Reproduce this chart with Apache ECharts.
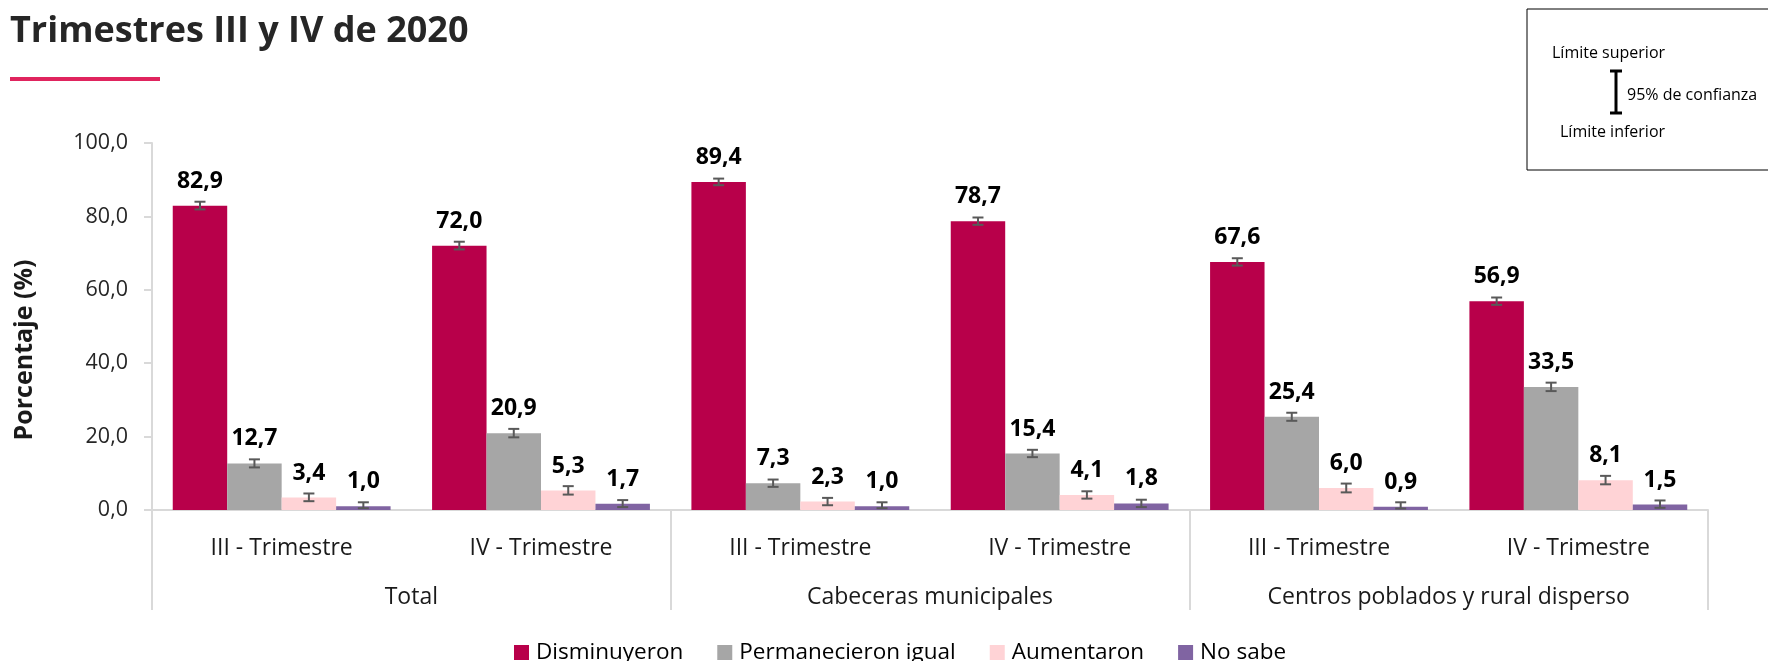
<!DOCTYPE html>
<html>
<head>
<meta charset="utf-8">
<script src="https://cdn.jsdelivr.net/npm/echarts@6/dist/echarts.min.js"></script>
<style>
  html, body { margin: 0; padding: 0; background: #fff; }
  #chart { width: 1768px; height: 661px; }
</style>
</head>
<body>
<div id="chart"></div>
<script>
// Categories: quarter within each area, then the three areas
const periods = ['III - Trimestre', 'IV - Trimestre', 'III - Trimestre', 'IV - Trimestre', 'III - Trimestre', 'IV - Trimestre'];
const areas = ['Total', 'Cabeceras municipales', 'Centros poblados y rural disperso'];
const seriesNames = ['Disminuyeron', 'Permanecieron igual', 'Aumentaron', 'No sabe'];
const yTicks = [0, 20, 40, 60, 80, 100];

// Percentages per category
const disminuyeron  = [82.9, 72.0, 89.4, 78.7, 67.6, 56.9];
const permanecieron = [12.7, 20.9, 7.3, 15.4, 25.4, 33.5];
const aumentaron    = [3.4, 5.3, 2.3, 4.1, 6.0, 8.1];
const noSabe        = [1.0, 1.7, 1.0, 1.8, 0.9, 1.5];

// 95% confidence limits (lower / upper)
const disminuyeronLow  = [81.9, 71.0, 88.5, 77.7, 66.6, 55.9];
const disminuyeronHigh = [84.0, 73.1, 90.3, 79.7, 68.6, 57.9];
const permanecieronLow  = [11.6, 19.8, 6.3, 14.4, 24.3, 32.4];
const permanecieronHigh = [13.8, 22.1, 8.3, 16.4, 26.5, 34.7];
const aumentaronLow  = [2.4, 4.2, 1.3, 3.1, 4.8, 7.0];
const aumentaronHigh = [4.5, 6.5, 3.3, 5.1, 7.2, 9.3];
const noSabeLow  = [0.5, 0.8, 0.5, 0.8, 0.4, 0.6];
const noSabeHigh = [2.1, 2.7, 2.1, 2.8, 2.1, 2.6];

const colors = ['#B8004A', '#A6A6A6', '#FFD3D6', '#8064A2'];
const values = [disminuyeron, permanecieron, aumentaron, noSabe];
const lows = [disminuyeronLow, permanecieronLow, aumentaronLow, noSabeLow];
const highs = [disminuyeronHigh, permanecieronHigh, aumentaronHigh, noSabeHigh];

const FONT = '"Open Sans", "DejaVu Sans", sans-serif';
const CAT_GAP = 0.16;
const fmt = v => v.toFixed(1).replace('.', ',');

const chart = echarts.init(document.getElementById('chart'), null, { renderer: 'canvas' });

const barSeries = seriesNames.map((name, i) => ({
  name: name,
  type: 'bar',
  xAxisIndex: 0,
  data: values[i],
  barGap: 0,
  barCategoryGap: (CAT_GAP * 100) + '%',
  itemStyle: { color: colors[i] },
  label: {
    show: true,
    position: 'top',
    distance: 13,
    fontFamily: FONT,
    fontSize: 23,
    fontWeight: 'bold',
    color: '#000',
    formatter: p => fmt(p.value)
  }
}));

// Error bars: [category, series index, lower, upper]
const errData = [];
for (let s = 0; s < 4; s++) {
  for (let c = 0; c < periods.length; c++) {
    errData.push([c, s, lows[s][c], highs[s][c]]);
  }
}

const errorSeries = {
  type: 'custom',
  name: 'IC',
  xAxisIndex: 0,
  z: 5,
  silent: true,
  encode: { x: 0, y: [2, 3] },
  data: errData,
  renderItem: (params, api) => {
    const c = api.value(0), s = api.value(1);
    const lo = api.value(2), hi = api.value(3);
    const band = api.size([1, 0])[0];
    const barW = band * (1 - CAT_GAP) / 4;
    const cx = api.coord([c, 0])[0] + (s - 1.5) * barW;
    const yLo = api.coord([c, lo])[1];
    const yHi = api.coord([c, hi])[1];
    const cap = 5.5;
    const st = { stroke: '#595959', lineWidth: 2 };
    return {
      type: 'group',
      children: [
        { type: 'line', shape: { x1: cx, y1: yLo, x2: cx, y2: yHi }, style: st },
        { type: 'line', shape: { x1: cx - cap, y1: yHi, x2: cx + cap, y2: yHi }, style: st },
        { type: 'line', shape: { x1: cx - cap, y1: yLo, x2: cx + cap, y2: yLo }, style: st }
      ]
    };
  }
};

const option = {
  backgroundColor: '#fff',
  animation: false,
  textStyle: { fontFamily: FONT },
  grid: { left: 152, right: 60, top: 143, bottom: 151 },
  legend: {
    data: seriesNames,
    top: 636,
    left: 509,
    icon: 'rect',
    itemWidth: 15,
    itemHeight: 15,
    itemGap: 34,
    textStyle: { fontFamily: FONT, fontSize: 22.5, color: '#000', padding: [0, 0, 0, 2] }
  },
  xAxis: [
    {
      type: 'category',
      data: periods,
      axisLine: { lineStyle: { color: '#D9D9D9', width: 2 } },
      axisTick: { show: false },
      axisLabel: { fontFamily: FONT, fontSize: 23, color: '#1a1a1a', margin: 27, interval: 0 }
    },
    {
      type: 'category',
      data: areas,
      position: 'bottom',
      axisLine: { show: false },
      axisTick: { show: true, length: 100, interval: 0, lineStyle: { color: '#D9D9D9', width: 2 } },
      axisLabel: { fontFamily: FONT, fontSize: 23, color: '#1a1a1a', margin: 76, interval: 0 }
    }
  ],
  yAxis: {
    type: 'value',
    min: yTicks[0],
    max: yTicks[yTicks.length - 1],
    interval: 20,
    axisLine: { show: true, lineStyle: { color: '#D9D9D9', width: 2 } },
    axisTick: { show: true, length: 8, lineStyle: { color: '#D9D9D9', width: 2 } },
    splitLine: { show: false },
    axisLabel: { fontFamily: FONT, fontSize: 21.5, color: '#262626', margin: 24, formatter: v => fmt(v) }
  },
  graphic: [
    {
      type: 'text', left: 10, top: 14,
      style: { text: 'Trimestres III y IV de 2020', font: 'bold 36px ' + FONT, fill: '#262626' }
    },
    { type: 'rect', shape: { x: 10, y: 77, width: 150, height: 4 }, style: { fill: '#E0245E' } },
    // y-axis title
    {
      type: 'text', x: 25, y: 350, rotation: Math.PI / 2,
      style: { text: 'Porcentaje (%)', font: 'bold 25px ' + FONT, fill: '#1a1a1a', align: 'center', verticalAlign: 'middle' }
    },
    // confidence interval key
    {
      type: 'group',
      children: [
        { type: 'rect', shape: { x: 1527, y: 9, width: 260, height: 161 }, style: { fill: '#fff', stroke: '#000', lineWidth: 1 } },
        { type: 'text', x: 1552, y: 53, style: { text: 'Límite superior', font: '16px ' + FONT, fill: '#000', verticalAlign: 'middle' } },
        { type: 'line', shape: { x1: 1616, y1: 71, x2: 1616, y2: 113 }, style: { stroke: '#000', lineWidth: 3 } },
        { type: 'line', shape: { x1: 1610, y1: 71, x2: 1622, y2: 71 }, style: { stroke: '#000', lineWidth: 3 } },
        { type: 'line', shape: { x1: 1610, y1: 113, x2: 1622, y2: 113 }, style: { stroke: '#000', lineWidth: 3 } },
        { type: 'text', x: 1627, y: 95, style: { text: '95% de confianza', font: '16px ' + FONT, fill: '#000', verticalAlign: 'middle' } },
        { type: 'text', x: 1560, y: 132, style: { text: 'Límite inferior', font: '16px ' + FONT, fill: '#000', verticalAlign: 'middle' } }
      ]
    }
  ],
  series: barSeries.concat([errorSeries])
};

chart.setOption(option);
</script>
</body>
</html>
